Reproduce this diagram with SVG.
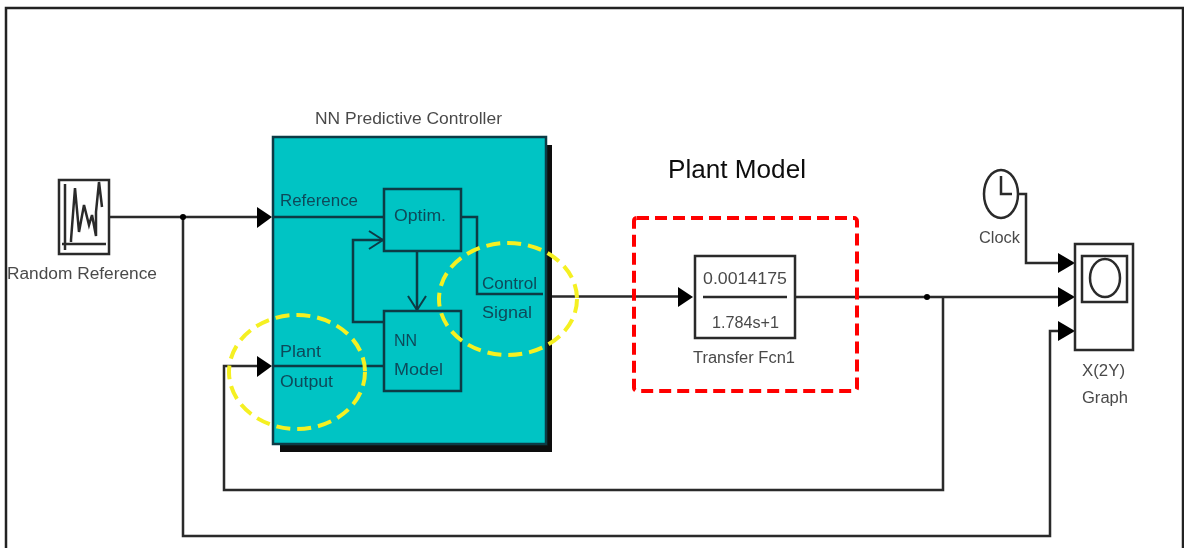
<svg xmlns="http://www.w3.org/2000/svg" width="1184" height="548" viewBox="0 0 1184 548">
<style>
text{font-family:"Liberation Sans",Arial,sans-serif;font-size:16px;fill:#4a4a4a}
.in{fill:#0b4a5a}
.c{text-anchor:middle}
.w{fill:none;stroke:#2a2a2a;stroke-width:2.500}
.b{fill:#fff;stroke:#2a2a2a;stroke-width:2.500}
.inb{fill:#00c4c4;stroke:#0b3a44;stroke-width:2.500}
.iw{fill:none;stroke:#0b3a44;stroke-width:2.500}
.a{fill:#000}
.dash{fill:none;stroke-width:4}
</style>
<defs>
<filter id="soft" x="-2%" y="-2%" width="104%" height="104%"><feGaussianBlur stdDeviation="0.45"/></filter>
<marker id="open" viewBox="0 0 16 20" markerWidth="16" markerHeight="20" refX="15" refY="10" markerUnits="userSpaceOnUse" orient="auto"><path d="M1 1 L15 10 L1 19" fill="none" stroke="#0b3a44" stroke-width="2"/></marker>
</defs>
<rect width="1184" height="548" fill="#fff"/>
<rect id="frame" x="6" y="8" width="1177" height="550" fill="none" stroke="#222" stroke-width="2.500"/>
<g filter="url(#soft)">
<g id="nn-controller">
<rect x="280" y="145" width="272" height="307" fill="#111"/>
<rect class="inb" x="273" y="137" width="273" height="307"/>
<text x="408.500" y="124" class="c" textLength="187" lengthAdjust="spacingAndGlyphs">NN Predictive Controller</text>
</g>
<g id="connectors">
<path class="w" d="M109 217H258"/>
<path class="w" d="M183 217V536H1050V331H1060"/>
<path class="w" d="M552 296.500H680"/>
<path class="w" d="M795 297H1060"/>
<path class="w" d="M943 297V490H224V366H258"/>
<path class="w" d="M1018 194H1026V263H1060"/>
<path class="iw" d="M273 217H384"/>
<path class="iw" d="M273 366H384"/>
<path class="iw" d="M461 217H477V294H543"/>
<path class="iw" d="M384 322H353V240H383" marker-end="url(#open)"/>
<path class="iw" d="M417 251V310" marker-end="url(#open)"/>
<circle class="a" cx="183" cy="217" r="3"/>
<circle class="a" cx="927" cy="297" r="3"/>
<path class="a" d="M257 207L272 217L257 228Z"/>
<path class="a" d="M257 356L272 366L257 377Z"/>
<path class="a" d="M678 287L693 297L678 307Z"/>
<path class="a" d="M1058 253L1075 263L1058 273Z"/>
<path class="a" d="M1058 287L1075 297L1058 307Z"/>
<path class="a" d="M1058 321L1075 331L1058 341Z"/>
</g>
<g id="random-reference">
<rect class="b" x="59" y="180" width="50" height="74"/>
<path d="M65 184V250M62 244H106" class="w"/>
<path class="w" d="M71 242V240L75 188L79 232L84 205L89 225L92 215L96 236V212L99 182L102 207"/>
<text x="82" y="279" class="c" textLength="150" lengthAdjust="spacingAndGlyphs">Random Reference</text>
</g>
<g id="optim">
<rect class="iw" x="384" y="189" width="77" height="62"/>
<text x="394" y="221" class="in" textLength="52" lengthAdjust="spacingAndGlyphs">Optim.</text>
</g>
<g id="nn-model">
<rect class="iw" x="384" y="311" width="77" height="80"/>
<text x="394" y="346" class="in">NN</text>
<text x="394" y="375" class="in" textLength="49" lengthAdjust="spacingAndGlyphs">Model</text>
</g>
<g id="port-labels">
<text x="280" y="206" class="in" textLength="78" lengthAdjust="spacingAndGlyphs">Reference</text>
<text x="280" y="357" class="in" textLength="41" lengthAdjust="spacingAndGlyphs">Plant</text>
<text x="280" y="387" class="in" textLength="53" lengthAdjust="spacingAndGlyphs">Output</text>
<text x="482" y="289" class="in" textLength="55" lengthAdjust="spacingAndGlyphs">Control</text>
<text x="482" y="318" class="in" textLength="50" lengthAdjust="spacingAndGlyphs">Signal</text>
</g>
<g id="transfer-fcn">
<rect class="b" x="695" y="256" width="100" height="82"/>
<path class="w" d="M703 297H787"/>
<text x="745" y="284" class="c" textLength="84" lengthAdjust="spacingAndGlyphs">0.0014175</text>
<text x="745.500" y="328" class="c" textLength="67" lengthAdjust="spacingAndGlyphs">1.784s+1</text>
<text x="744" y="363" class="c" textLength="102" lengthAdjust="spacingAndGlyphs">Transfer Fcn1</text>
</g>
<g id="clock">
<ellipse class="b" cx="1001" cy="194" rx="17" ry="24"/>
<path class="w" d="M1001 176V194H1012"/>
<text x="999.500" y="243" class="c" textLength="41" lengthAdjust="spacingAndGlyphs">Clock</text>
</g>
<g id="xy-graph">
<rect class="b" x="1075" y="244" width="58" height="106"/>
<rect class="b" x="1082" y="256" width="45" height="46"/>
<ellipse class="b" cx="1105" cy="278" rx="15" ry="19"/>
<text x="1103.500" y="376" class="c" textLength="43" lengthAdjust="spacingAndGlyphs">X(2Y)</text>
<text x="1105" y="403" class="c" textLength="46" lengthAdjust="spacingAndGlyphs">Graph</text>
</g>
<text id="plant-model" x="737" y="178" class="c" textLength="138" lengthAdjust="spacingAndGlyphs" style="font-size:25px;fill:#111">Plant Model</text>
<g id="highlights">
<rect class="dash" x="634" y="218" width="223" height="173" stroke="#f00" stroke-dasharray="12 6" rx="3"/>
<ellipse class="dash" cx="297" cy="372" rx="68" ry="57" stroke="#f5f020" stroke-dasharray="14 7"/>
<ellipse class="dash" cx="508" cy="299" rx="69" ry="56" stroke="#f5f020" stroke-dasharray="14 7"/>
</g>
</g>
</svg>
